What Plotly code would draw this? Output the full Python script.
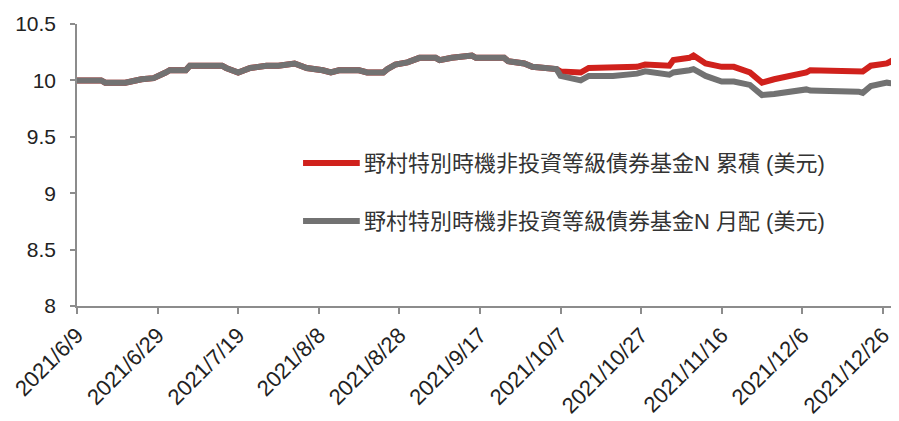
import plotly.graph_objects as go

# Shared NAV history (both share classes identical before the first distribution)
dates_common = [
    "2021-06-09", "2021-06-15", "2021-06-16", "2021-06-21", "2021-06-25", "2021-06-28",
    "2021-07-01", "2021-07-02", "2021-07-06", "2021-07-07", "2021-07-15", "2021-07-16",
    "2021-07-19", "2021-07-22", "2021-07-26", "2021-07-29", "2021-08-02", "2021-08-03",
    "2021-08-05", "2021-08-09", "2021-08-11", "2021-08-13", "2021-08-18", "2021-08-20",
    "2021-08-24", "2021-08-25", "2021-08-27", "2021-08-30", "2021-09-02", "2021-09-06",
    "2021-09-07", "2021-09-10", "2021-09-15", "2021-09-16", "2021-09-23", "2021-09-24",
    "2021-09-28", "2021-09-30", "2021-10-04", "2021-10-06",
]
nav_common = [
    10.00, 10.00, 9.98, 9.98, 10.01, 10.02,
    10.07, 10.09, 10.09, 10.13, 10.13, 10.11,
    10.07, 10.11, 10.13, 10.13, 10.15, 10.14,
    10.11, 10.09, 10.07, 10.09, 10.09, 10.07,
    10.07, 10.10, 10.14, 10.16, 10.20, 10.20,
    10.18, 10.20, 10.22, 10.20, 10.20, 10.17,
    10.15, 10.12, 10.11, 10.10,
]

# After the first distribution the two classes diverge
dates_after = [
    "2021-10-07", "2021-10-12", "2021-10-14", "2021-10-20", "2021-10-26", "2021-10-28",
    "2021-11-03", "2021-11-04", "2021-11-08", "2021-11-09", "2021-11-11", "2021-11-12",
    "2021-11-16", "2021-11-19", "2021-11-23", "2021-11-26", "2021-11-29", "2021-12-02",
    "2021-12-07", "2021-12-08", "2021-12-14", "2021-12-20", "2021-12-21", "2021-12-23",
    "2021-12-27", "2021-12-28", "2021-12-29",
]
acc_after = [
    10.08, 10.07, 10.11, 10.11, 10.12, 10.14,
    10.13, 10.18, 10.20, 10.22, 10.18, 10.15,
    10.12, 10.12, 10.07, 9.98, 10.01, 10.03,
    10.07, 10.09, 10.09, 10.08, 10.08, 10.13,
    10.15, 10.17, 10.14,
]
dist_after = [
    10.04, 10.00, 10.04, 10.04, 10.06, 10.08,
    10.05, 10.07, 10.09, 10.10, 10.06, 10.04,
    9.99, 9.99, 9.96, 9.87, 9.88, 9.90,
    9.92, 9.91, 9.91, 9.90, 9.89, 9.95,
    9.98, 9.98, 9.97,
]

series_names = [
    "野村特別時機非投資等級債券基金N 累積 (美元)",
    "野村特別時機非投資等級債券基金N 月配 (美元)",
]

tick_dates = [
    "2021-06-09", "2021-06-29", "2021-07-19", "2021-08-08", "2021-08-28", "2021-09-17",
    "2021-10-07", "2021-10-27", "2021-11-16", "2021-12-06", "2021-12-26",
]
tick_labels = [
    "2021/6/9", "2021/6/29", "2021/7/19", "2021/8/8", "2021/8/28", "2021/9/17",
    "2021/10/7", "2021/10/27", "2021/11/16", "2021/12/6", "2021/12/26",
]

RED = "#d0211c"
GRAY = "#727272"
FONT = "Liberation Sans, Arial, Noto Sans CJK TC, sans-serif"

fig = go.Figure()
fig.add_trace(go.Scatter(
    x=dates_common + dates_after, y=nav_common + acc_after,
    mode="lines", name=series_names[0], line=dict(color=RED, width=6),
))
fig.add_trace(go.Scatter(
    x=dates_common + dates_after, y=nav_common + dist_after,
    mode="lines", name=series_names[1], line=dict(color=GRAY, width=6),
))

# Custom legend (line sample + text) to mimic the original layout
legend_rows = [(0.507, RED, series_names[0]), (0.301, GRAY, series_names[1])]
for ypos, col, name in legend_rows:
    fig.add_shape(type="line", xref="paper", yref="paper",
                  x0=0.275, x1=0.344, y0=ypos, y1=ypos,
                  line=dict(color=col, width=6))
    fig.add_annotation(xref="paper", yref="paper", x=0.347, y=ypos,
                       xanchor="left", yanchor="middle", text=name, showarrow=False,
                       font=dict(size=22, color="#333333", family=FONT))

# The page body adds an 8px offset; size the figure so the plot lands where the original is
fig.update_layout(
    width=891, height=413,
    margin=dict(l=69, r=0, t=16, b=115, autoexpand=False),
    paper_bgcolor="white", plot_bgcolor="white",
    showlegend=False,
    font=dict(family=FONT, size=21, color="#222222"),
)
fig.update_xaxes(
    type="date", range=["2021-06-09", "2021-12-30"],
    tickvals=tick_dates, ticktext=tick_labels, tickangle=-45,
    showgrid=False, zeroline=False,
    showline=True, linecolor="#8c8c8c", linewidth=1.5,
    ticks="outside", ticklen=6, tickcolor="#8c8c8c", tickwidth=1.5,
    tickfont=dict(size=22, color="#222222", family=FONT),
    ticklabeloverflow="allow", automargin=False,
)
fig.update_yaxes(
    range=[8, 10.5], dtick=0.5, tick0=8,
    showgrid=False, zeroline=False,
    showline=True, linecolor="#8c8c8c", linewidth=1.5,
    ticks="outside", ticklen=5, tickcolor="#8c8c8c", tickwidth=1.5,
    tickfont=dict(size=21, color="#222222", family=FONT),
    ticklabelstandoff=10, automargin=False,
)

fig.write_html("out.html")
